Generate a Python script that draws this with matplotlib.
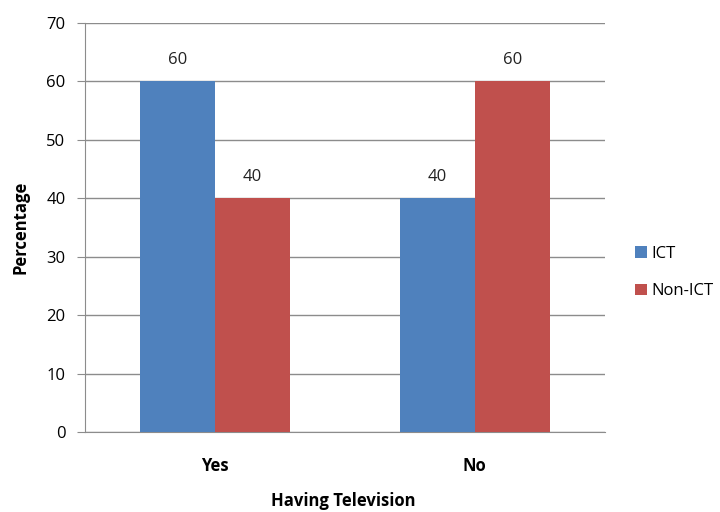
import numpy as np
import matplotlib
matplotlib.use('Agg')
import matplotlib.pyplot as plt

categories = ['Yes', 'No']
ict = [60, 40]
non_ict = [40, 60]
series_names = ['ICT', 'Non-ICT']
colors = ['#4F81BD', '#C0504D']

plt.rcParams['font.family'] = ['Open Sans', 'DejaVu Sans']

fig = plt.figure(figsize=(7.2, 5.12), dpi=100)
ax = fig.add_axes([0.118, 0.156, 0.722, 0.799])

x = np.arange(len(categories))
w = 0.288
for i, (vals, name, c) in enumerate(zip([ict, non_ict], series_names, colors)):
    pos = x + (i - 0.5) * w
    ax.bar(pos, vals, width=w, color=c, label=name, zorder=3)
    for p, v in zip(pos, vals):
        ax.text(p, v + 3.6, f'{v}', ha='center', va='center', fontsize=12, color='#222222')

ax.set_xlim(-0.5, 1.5)
ax.set_ylim(0, 70)
ax.set_yticks(range(0, 71, 10))
ax.yaxis.grid(True, color='#8c8c8c', linewidth=1, zorder=0)
ax.set_xticks(x)
ax.set_xticklabels(categories, fontweight='bold', fontsize=12)
ax.tick_params(axis='x', length=0, pad=18)
ax.tick_params(axis='y', length=6, color='#8c8c8c', labelsize=12, pad=8)

for s in ['top', 'right']:
    ax.spines[s].set_visible(False)
ax.spines['left'].set_color('#8c8c8c')
ax.spines['bottom'].set_color('#8c8c8c')

ax.set_ylabel('Percentage', fontweight='bold', fontsize=12, labelpad=12)
# axis title placed in figure coords so it sits just above the bottom edge
fig.text(0.477, 0.022, 'Having Television', ha='center', va='center',
         fontweight='bold', fontsize=12)

ax.legend(loc='center left', bbox_to_anchor=(1.045, 0.39), frameon=False,
          fontsize=12, handlelength=0.7, handleheight=0.7, labelspacing=1.3,
          handletextpad=0.3, borderaxespad=0.0)

fig.savefig('out.png', dpi=100)
